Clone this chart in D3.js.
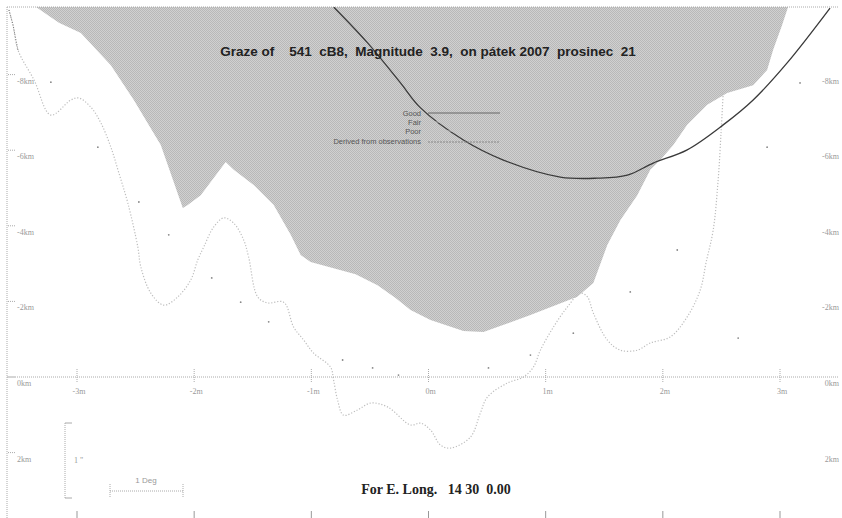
<!DOCTYPE html>
<html><head><meta charset="utf-8">
<script src="https://cdn.jsdelivr.net/npm/d3@7"></script>
<style>body{margin:0;background:#fff}svg{display:block}</style>
</head><body>
<svg id="c" width="842" height="518"></svg>
<script>
// ---- data (x in minutes of arc, y in km) ----
const xTicks = [-3,-2,-1,0,1,2,3];
const xTickLabels = ["-3m","-2m","-1m","0m","1m","2m","3m"];
const yTicks = [-8,-6,-4,-2,0,2];
const yTickLabels = ["-8km","-6km","-4km","-2km","0km","2km"];

// lunar limb profile (upper shaded region boundary)
const profileX = [-3.350,-3.223,-3.154,-2.967,-2.711,-2.515,-2.285,-2.097,-2.055,-1.944,-1.731,-1.662,-1.492,-1.321,-1.176,-1.091,-1.006,-0.810,-0.622,-0.435,-0.281,-0.153,0.017,0.298,0.469,0.870,1.270,1.407,1.526,1.637,1.782,1.893,1.978,2.089,2.208,2.379,2.549,2.771,2.890,2.941,3.018,3.069];
const profileY = [-9.79,-9.52,-9.37,-9.10,-8.25,-7.33,-6.14,-4.47,-4.55,-4.81,-5.69,-5.48,-5.08,-4.55,-3.76,-3.23,-3.04,-2.88,-2.72,-2.43,-2.09,-1.77,-1.51,-1.22,-1.19,-1.64,-2.12,-2.49,-3.49,-4.15,-4.81,-5.48,-5.74,-6.14,-6.67,-7.20,-7.51,-7.72,-8.12,-8.65,-9.31,-9.79];

// dotted limit curve
const limitX = [-3.581,-3.546,-3.504,-3.367,-3.223,-3.052,-2.984,-2.882,-2.796,-2.711,-2.643,-2.566,-2.481,-2.455,-2.370,-2.259,-2.140,-2.029,-1.969,-1.918,-1.833,-1.748,-1.662,-1.577,-1.535,-1.458,-1.373,-1.236,-1.151,-1.066,-0.980,-0.836,-0.810,-0.776,-0.725,-0.605,-0.494,-0.350,-0.153,-0.068,0.017,0.102,0.188,0.358,0.443,0.503,0.673,0.810,0.895,0.955,1.066,1.185,1.296,1.356,1.407,1.526,1.637,1.782,1.893,2.063,2.208,2.319,2.370,2.430,2.472,2.498,2.515];
const limitY = [-9.71,-9.31,-8.65,-7.86,-6.93,-7.33,-7.38,-7.14,-6.72,-6.08,-5.40,-4.60,-3.44,-2.91,-2.22,-1.90,-2.12,-2.57,-3.10,-3.44,-3.97,-4.21,-4.07,-3.62,-3.17,-2.12,-1.96,-1.98,-1.32,-0.98,-0.63,-0.26,0.08,0.61,1.01,0.87,0.69,0.79,1.27,1.22,1.40,1.80,1.88,1.59,0.95,0.53,0.16,0.00,-0.26,-0.71,-1.32,-1.85,-2.22,-2.12,-1.69,-0.98,-0.71,-0.71,-0.90,-1.06,-1.59,-2.30,-3.04,-3.89,-5.21,-6.53,-7.51];

// observer path curve
const pathX = [-0.810,-0.520,-0.239,-0.068,0.298,0.639,1.125,1.441,1.697,1.918,2.208,2.515,2.771,3.061,3.427];
const pathY = [-9.79,-8.84,-7.78,-7.12,-6.27,-5.74,-5.29,-5.26,-5.34,-5.66,-6.01,-6.67,-7.33,-8.31,-9.76];

// scattered observation dots
const dotX = [-3.223,-2.822,-2.472,-2.217,-1.850,-1.603,-1.364,-0.733,-0.477,-0.256,0.512,0.870,1.236,1.722,2.123,2.643,2.890,3.171];
const dotY = [-7.80,-6.08,-4.63,-3.76,-2.62,-1.98,-1.46,-0.45,-0.24,-0.05,-0.24,-0.58,-1.16,-2.25,-3.36,-1.03,-6.08,-7.78];

const legendLabels = ["Good","Fair","Poor","Derived from observations"];
const titleText = "Graze of    541  cB8,  Magnitude  3.9,  on pátek 2007  prosinec  21";
const footText = "For E. Long.   14 30  0.00";

// ---- drawing ----
const svg = d3.select("#c");
const x = d3.scaleLinear().domain([-3,3]).range([77,780]);
const y = d3.scaleLinear().domain([0,-2]).range([377,301.4]);
const pTop = 7, pLeft = 7, pRight = 838, pBottom = 518;

const defs = svg.append("defs");
const pat = defs.append("pattern").attr("id","hatch").attr("width",2).attr("height",2).attr("patternUnits","userSpaceOnUse");
pat.append("rect").attr("width",2).attr("height",2).attr("fill","#d0d0d0");
pat.append("rect").attr("width",1).attr("height",1).attr("fill","#b8b8b8");
pat.append("rect").attr("x",1).attr("y",1).attr("width",1).attr("height",1).attr("fill","#b8b8b8");
defs.append("clipPath").attr("id","clip").append("rect").attr("x",pLeft).attr("y",pTop).attr("width",pRight-pLeft).attr("height",pBottom-pTop);

const g = svg.append("g").attr("clip-path","url(#clip)");

// shaded limb
const prof = profileX.map((v,i)=>[v,profileY[i]]);
g.append("path").datum(prof)
  .attr("d", d3.area().x(d=>x(d[0])).y0(pTop).y1(d=>y(d[1])))
  .attr("fill","url(#hatch)");

// frame
svg.append("line").attr("x1",pLeft).attr("x2",pLeft).attr("y1",pTop).attr("y2",pBottom)
  .attr("stroke","#aaa").attr("stroke-dasharray","1,1");
svg.append("line").attr("x1",pLeft).attr("x2",pRight).attr("y1",pTop).attr("y2",pTop)
  .attr("stroke","#aaa").attr("stroke-dasharray","1,1");

// zero line
svg.append("line").attr("x1",pLeft).attr("x2",pRight).attr("y1",y(0)).attr("y2",y(0))
  .attr("stroke","#aaa").attr("stroke-dasharray","1,1");

// x ticks on axis and bottom
const xg = svg.append("g");
xTicks.forEach((t,i)=>{
  xg.append("line").attr("x1",x(t)).attr("x2",x(t)).attr("y1",y(0)-8).attr("y2",y(0)+6)
    .attr("stroke","#aaa").attr("stroke-dasharray","1,1");
  xg.append("line").attr("x1",x(t)).attr("x2",x(t)).attr("y1",511).attr("y2",518)
    .attr("stroke","#999");
  xg.append("text").attr("x",x(t)+2).attr("y",y(0)+17).attr("text-anchor","middle")
    .attr("font-family","Liberation Serif").attr("font-size",8).attr("fill","#999").text(xTickLabels[i]);
});

// y ticks left and right
const yg = svg.append("g");
yTicks.forEach((t,i)=>{
  yg.append("line").attr("x1",pLeft+1).attr("x2",pLeft+9).attr("y1",y(t)).attr("y2",y(t))
    .attr("stroke","#aaa").attr("stroke-dasharray","1,1");
  yg.append("text").attr("x",17).attr("y",y(t)+9)
    .attr("font-family","Liberation Serif").attr("font-size",8).attr("fill","#999").text(yTickLabels[i]);
  yg.append("text").attr("x",839).attr("y",y(t)+9).attr("text-anchor","end")
    .attr("font-family","Liberation Serif").attr("font-size",8).attr("fill","#999").text(yTickLabels[i]);
});

// limit dotted curve
const lim = limitX.map((v,i)=>[v,limitY[i]]);
g.append("path").datum(lim)
  .attr("d", d3.line().x(d=>x(d[0])).y(d=>y(d[1])).curve(d3.curveCatmullRom))
  .attr("fill","none").attr("stroke","#bdbdbd").attr("stroke-width",1.2).attr("stroke-dasharray","1.2,1.8");
g.append("path").datum(lim.slice(0,3))
  .attr("d", d3.line().x(d=>x(d[0])).y(d=>y(d[1])))
  .attr("fill","none").attr("stroke","#777").attr("stroke-width",1).attr("stroke-dasharray","1,1.5");

// dots
g.selectAll("circle.dot").data(dotX.map((v,i)=>[v,dotY[i]])).join("circle")
  .attr("class","dot").attr("cx",d=>x(d[0])).attr("cy",d=>y(d[1])).attr("r",0.9).attr("fill","#888");

// path curve
const pth = pathX.map((v,i)=>[v,pathY[i]]);
g.append("path").datum(pth)
  .attr("d", d3.line().x(d=>x(d[0])).y(d=>y(d[1])).curve(d3.curveCatmullRom))
  .attr("fill","none").attr("stroke","#3a3a3a").attr("stroke-width",1.3);

// title
svg.append("text").attr("x",428).attr("y",56).attr("text-anchor","middle")
  .attr("font-family","Liberation Sans, Arial").attr("font-weight","bold").attr("font-size",13.5)
  .attr("fill","#222").style("white-space","pre").text(titleText);

// legend
const lg = svg.append("g");
const legY = [113,122,131,141];
legendLabels.forEach((l,i)=>{
  lg.append("text").attr("x",421).attr("y",legY[i]+3).attr("text-anchor","end")
    .attr("font-family","Liberation Sans, Arial").attr("font-size",7.5).attr("fill","#555").text(l);
});
lg.append("line").attr("x1",428).attr("x2",500).attr("y1",legY[0]).attr("y2",legY[0]).attr("stroke","#666").attr("stroke-width",1);
lg.append("line").attr("x1",428).attr("x2",500).attr("y1",legY[1]).attr("y2",legY[1]).attr("stroke","#c4c4c4").attr("stroke-width",0.8);
lg.append("line").attr("x1",428).attr("x2",500).attr("y1",legY[2]).attr("y2",legY[2]).attr("stroke","#c4c4c4").attr("stroke-width",0.8);
lg.append("line").attr("x1",428).attr("x2",500).attr("y1",legY[3]+1).attr("y2",legY[3]+1).attr("stroke","#888").attr("stroke-width",1).attr("stroke-dasharray","2,1");

// scale bars
const sb = svg.append("g").attr("stroke","#aaa").attr("fill","none");
sb.append("line").attr("x1",65).attr("x2",65).attr("y1",423).attr("y2",498).attr("stroke-dasharray","1,1");
sb.append("line").attr("x1",65).attr("x2",72).attr("y1",423).attr("y2",423);
sb.append("line").attr("x1",65).attr("x2",72).attr("y1",498).attr("y2",498);
sb.append("line").attr("x1",110).attr("x2",183).attr("y1",491).attr("y2",491).attr("stroke-dasharray","1,1");
sb.append("line").attr("x1",110).attr("x2",110).attr("y1",484).attr("y2",498).attr("stroke-dasharray","1,1");
sb.append("line").attr("x1",183).attr("x2",183).attr("y1",484).attr("y2",498).attr("stroke-dasharray","1,1");
svg.append("text").attr("x",74).attr("y",463).attr("font-family","Liberation Serif").attr("font-size",8).attr("fill","#999").text("1 \"");
svg.append("text").attr("x",146).attr("y",483).attr("text-anchor","middle").attr("font-family","Liberation Sans, Arial").attr("font-size",8).attr("fill","#999").text("1 Deg");

// footer
svg.append("text").attr("x",436).attr("y",494).attr("text-anchor","middle")
  .attr("font-family","Liberation Serif").attr("font-weight","bold").attr("font-size",14)
  .attr("fill","#222").style("white-space","pre").text(footText);
</script>
</body></html>
